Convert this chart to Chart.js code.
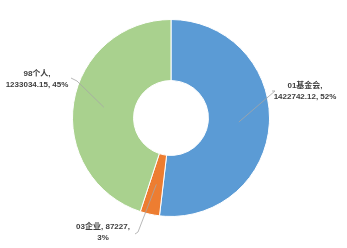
<!DOCTYPE html>
<html>
<head>
<meta charset="utf-8">
<script src="https://cdn.jsdelivr.net/npm/chart.js@4/dist/chart.umd.min.js"></script>
<style>
  html, body { margin: 0; padding: 0; background: #fff; }
  #wrap { width: 347px; height: 248px; }
</style>
</head>
<body>
<div id="wrap"><canvas id="chart" width="347" height="248"></canvas></div>
<script>
// Chart data
const categories = ['01基金会', '03企业', '98个人'];
const amounts = [1422742.12, 87227, 1233034.15];
const amountLabels = ['1422742.12', '87227', '1233034.15'];
const percents = ['52%', '3%', '45%'];
const colors = ['#5B9BD5', '#ED7D31', '#A9D18E'];

// Label text lines for each slice
function labelLines(i) {
    if (i === 1) return [categories[i] + ', ' + amountLabels[i] + ',', percents[i]];
    return [categories[i] + ',', amountLabels[i] + ', ' + percents[i]];
}

// Where each label sits relative to the chart centre, plus the leader elbow
const labelPlacement = [
    { dx: 134, dy: -27, elbow: [104, -27], knee: [101, -27] },
    { dx: -68, dy: 114, elbow: [-33, 114], knee: [-36, 116] },
    { dx: -134, dy: -39, elbow: [-94, -37], knee: [-100, -40] }
];

// Plugin that draws leader lines and data labels
const calloutPlugin = {
    id: 'callouts',
    afterDatasetsDraw(chart) {
        const ctx = chart.ctx;
        const meta = chart.getDatasetMeta(0);
        ctx.save();
        meta.data.forEach((arc, i) => {
            const p = arc.tooltipPosition();
            const cx = arc.x, cy = arc.y;
            const place = labelPlacement[i];
            // leader line
            ctx.strokeStyle = '#A6A6A6';
            ctx.lineWidth = 0.8;
            ctx.beginPath();
            ctx.moveTo(p.x, p.y);
            ctx.lineTo(cx + place.elbow[0], cy + place.elbow[1]);
            ctx.lineTo(cx + place.knee[0], cy + place.knee[1]);
            ctx.stroke();
            // text
            ctx.fillStyle = '#404040';
            ctx.font = 'bold 8px "Liberation Sans", "Noto Sans CJK SC", sans-serif';
            ctx.textAlign = 'center';
            ctx.textBaseline = 'middle';
            labelLines(i).forEach((t, k) => {
                ctx.fillText(t, cx + place.dx, cy + place.dy + k * 11 - 5);
            });
        });
        ctx.restore();
    }
};

const ctx = document.getElementById('chart').getContext('2d');
new Chart(ctx, {
    type: 'doughnut',
    data: {
        labels: categories,
        datasets: [{
            data: amounts,
            backgroundColor: colors,
            borderColor: '#ffffff',
            borderWidth: 1
        }]
    },
    options: {
        responsive: false,
        animation: false,
        cutout: '38%',
        layout: { padding: { left: 72, right: 77, top: 19, bottom: 31 } },
        plugins: {
            legend: { display: false },
            tooltip: { enabled: false }
        }
    },
    plugins: [calloutPlugin]
});
</script>
</body>
</html>
